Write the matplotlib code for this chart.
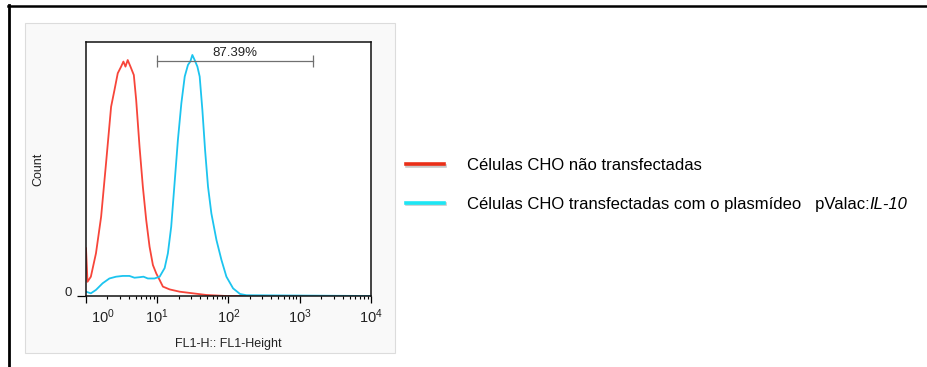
import matplotlib
matplotlib.use('Agg')
import matplotlib.pyplot as plt
import matplotlib.patheffects as pe
from matplotlib.lines import Line2D
from matplotlib.patches import Rectangle
from matplotlib.transforms import ScaledTranslation

plt.rcParams['font.family'] = ['Liberation Sans', 'DejaVu Sans']
plt.rcParams['mathtext.fontset'] = 'custom'
plt.rcParams['mathtext.rm'] = 'Liberation Sans'

# FL1-Height channel values and counts
red_fl1 = [1.0, 1.05, 1.17, 1.38, 1.63, 1.91, 2.25, 2.51, 2.79, 3.11, 3.35, 3.58,
           3.85, 4.21, 4.69, 5.06, 5.64, 6.28, 7.0, 7.8, 8.69, 9.68, 10.8, 12.0,
           14.9, 20.6, 31.8, 49.0, 93.5, 145, 10000]
red_count = [18.8, 5.6, 7.6, 16.8, 31.2, 52.2, 74.5, 81.1, 87.7, 90.3, 92.3, 90.3,
             92.9, 90.3, 87.0, 77.2, 58.8, 43.0, 29.9, 19.4, 12.2, 8.9, 6.3, 3.7,
             2.6, 1.7, 1.05, 0.4, 0.0, 0.0, 0.0]

blue_fl1 = [1.0, 1.17, 1.38, 1.71, 2.13, 2.64, 3.28, 4.07, 4.79, 5.64, 6.41, 7.38,
            9.16, 10.8, 12.7, 14.1, 15.7, 17.5, 19.5, 21.8, 24.3, 27.0, 29.1, 31.1,
            33.5, 36.6, 39.4, 43.0, 46.9, 51.6, 57.5, 67.8, 79.6, 93.5, 116, 145,
            179, 10000]
blue_count = [1.7, 1.05, 2.4, 5.0, 6.9, 7.6, 7.9, 7.9, 7.2, 7.4, 7.6, 6.9,
              6.9, 7.6, 11.0, 16.8, 27.3, 44.4, 61.5, 75.9, 86.4, 91.0, 92.3, 94.9,
              92.9, 90.3, 86.4, 73.2, 57.5, 43.0, 32.5, 22.0, 14.2, 7.6, 3.0, 0.8,
              0.3, 0.0]

gate_lo, gate_hi = 10, 1520
gate_label = '87.39%'

xticks = [1, 10, 100, 1000, 10000]
xtick_labels = [r'$\mathregular{10^{%d}}$' % i for i in range(5)]

labels = ['Células CHO não transfectadas',
          'Células CHO transfectadas com o plasmídeo   pValac:']
italic_part = 'IL-10'

W, H = 928, 367
fig = plt.figure(figsize=(W / 100, H / 100), dpi=100)

# page frame (top and left rules)
fig.add_artist(Line2D([7.5 / W, 1], [1 - 6 / H] * 2, color='black', lw=1.8,
                      transform=fig.transFigure))
fig.add_artist(Line2D([8.7 / W] * 2, [0, 1 - 5 / H], color='black', lw=2.0,
                      transform=fig.transFigure))
# light panel behind the histogram
fig.add_artist(Rectangle((25 / W, 1 - 353 / H), 370 / W, 330 / H,
                         facecolor='#f9f9f9', edgecolor='#dcdcdc', lw=0.8,
                         transform=fig.transFigure, zorder=0))

ax = fig.add_axes([86 / W, 1 - 296 / H, 285 / W, 254 / H])
ax.set_facecolor('white')
ax.plot(red_fl1, red_count, color='#f7453a', lw=1.3)
ax.plot(blue_fl1, blue_count, color='#1cc4ef', lw=1.3)
ax.set_xscale('log')
ax.set_xlim(1, 10000)
ax.set_ylim(0, 100)

for s in ax.spines.values():
    s.set_linewidth(1.1)
    s.set_color('#111111')

ax.set_xticks(xticks)
ax.set_xticklabels(xtick_labels, fontsize=10.5, color='#222222')
ax.tick_params(axis='x', which='major', direction='out', length=5, width=0.9, pad=3)
ax.tick_params(axis='x', which='minor', direction='out', length=2.2, width=0.8)
ax.set_yticks([0])
ax.set_yticklabels(['0'], fontsize=9.5, color='#222222')
ax.tick_params(axis='y', direction='out', length=6.5, width=0.9, pad=3)
lab0 = ax.get_xticklabels()[0]
lab0.set_transform(lab0.get_transform() + ScaledTranslation(12 / 72, 0, fig.dpi_scale_trans))
ylab0 = ax.get_yticklabels()[0]
ylab0.set_transform(ylab0.get_transform() + ScaledTranslation(-1 / 72, 3 / 72, fig.dpi_scale_trans))

ax.set_xlabel('FL1-H:: FL1-Height', fontsize=9, color='#222222', labelpad=9)
ax.set_ylabel('Count', fontsize=9, color='#222222', labelpad=14)

# gate bar
ax.plot([gate_lo, gate_hi], [92.6, 92.6], color='#707070', lw=0.9,
        marker='|', markersize=8, markeredgewidth=0.9)
ax.text((gate_lo * gate_hi) ** 0.5, 93.5, gate_label, ha='center', va='bottom',
        fontsize=9.5, color='#222222')

shadow = [pe.SimpleLineShadow(offset=(0.6, -1.0), shadow_color='#888888', alpha=0.45),
          pe.Normal()]
handles = [Line2D([], [], color='#ea2f18', lw=2.6, path_effects=shadow),
           Line2D([], [], color='#1de6f4', lw=2.6, path_effects=shadow)]
leg = fig.legend(handles, labels, loc='upper left',
                 bbox_to_anchor=(406 / W, 1 - 158 / H), frameon=False,
                 fontsize=12, handlelength=2.3, handletextpad=1.35,
                 labelspacing=1.42, borderaxespad=0, borderpad=0)

fig.canvas.draw()
t = leg.get_texts()[1]
bb = t.get_window_extent()
x0, y0 = t.get_transform().transform(t.get_position())
fig.text(bb.x1 / W, y0 / H, italic_part, fontsize=12, fontstyle='italic',
         va='baseline', ha='left', color='black')

fig.savefig('out.png', dpi=100, facecolor='white')
